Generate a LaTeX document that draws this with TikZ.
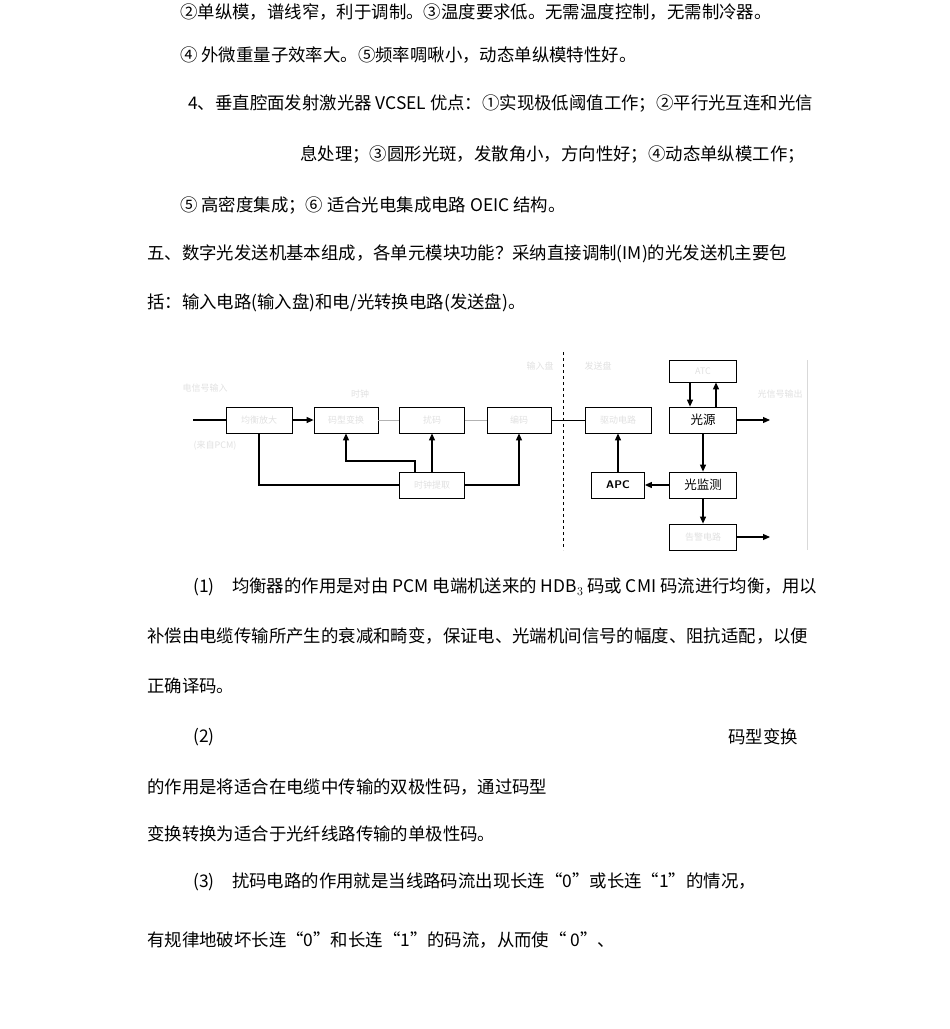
\documentclass[tikz,border=0pt]{standalone}
\usepackage{fontspec}
\setmainfont{Noto Sans CJK SC}
\usetikzlibrary{arrows.meta}
\begin{document}
\begin{tikzpicture}[x=1pt,y=-1pt,
  t/.style={anchor=west,inner sep=0,font=\fontsize{17.4}{17.4}\selectfont},
  bx/.style={draw,line width=0.8pt,minimum height=26pt,inner sep=0,font=\fontsize{12.5}{12.5}\selectfont},
  ft/.style={text=black!12,font=\fontsize{9}{9}\selectfont},
  ar/.style={line width=1.1pt,-{Triangle[length=7pt,width=6pt]}},
  ln/.style={line width=1.1pt}]
\useasboundingbox (0,0) rectangle (950,1029);
\node[t] (l1) at (180,12) {②单纵模，谱线窄，利于调制。③温度要求低。无需温度控制，无需制冷器。};
\node[t] (l2) at (180,55) {④ 外微重量子效率大。⑤频率啁啾小，动态单纵模特性好。};
\node[t] (l3) at (188,104) {4、垂直腔面发射激光器 VCSEL 优点：①实现极低阈值工作；②平行光互连和光信};
\node[t] (l4) at (300,155) {息处理；③圆形光斑，发散角小，方向性好；④动态单纵模工作；};
\node[t] (l5) at (180,205) {⑤ 高密度集成；⑥ 适合光电集成电路 OEIC 结构。};
\node[t] (l6) at (147,254) {五、数字光发送机基本组成，各单元模块功能？采纳直接调制(IM)的光发送机主要包};
\node[t] (l7) at (147,303) {括：输入电路(输入盘)和电/光转换电路(发送盘)。};
\node[t] (l8) at (193,587) {(1)\quad 均衡器的作用是对由 PCM 电端机送来的 HDB$_3$ 码或 CMI 码流进行均衡，用以};
\node[t] (l9) at (147,636) {补偿由电缆传输所产生的衰减和畸变，保证电、光端机间信号的幅度、阻抗适配，以便};
\node[t] (l10) at (147,686) {正确译码。};
\node[t] (l11) at (193,737) {(2)};
\node[t] (l12) at (728,737) {码型变换};
\node[t] (l13) at (147,787) {的作用是将适合在电缆中传输的双极性码，通过码型};
\node[t] (l14) at (147,834) {变换转换为适合于光纤线路传输的单极性码。};
\node[t] (l15) at (193,882) {(3)\quad 扰码电路的作用就是当线路码流出现长连“0”或长连“1”的情况，};
\node[t] (l16) at (147,940) {有规律地破坏长连“0”和长连“1”的码流，从而使“ 0”、};
% diagram
\node[bx,minimum width=66pt] (b1) at (259,420) {};
\node[bx,minimum width=64pt] (b2) at (346,420) {};
\node[bx,minimum width=65pt] (b3) at (432,420) {};
\node[bx,minimum width=64pt] (b4) at (519,420) {};
\node[bx,minimum width=66pt] (b5) at (618,420) {};
\node[bx,minimum width=67pt] (gy) at (703,420) {光源};
\node[bx,minimum width=67pt,minimum height=22pt] (top) at (703,371) {};
\node[bx,minimum width=53pt,font=\sffamily\bfseries\fontsize{11}{11}\selectfont] (apc) at (618,485) {APC};
\node[bx,minimum width=67pt] (jc) at (703,485) {光监测};
\node[bx,minimum width=67pt] (gj) at (703,537) {};
\node[bx,minimum width=65pt] (kz) at (432,485) {};
\coordinate (in) at (193,420);
\coordinate (out1) at (770,420);
\coordinate (out2) at (770,537);
\draw[ln] (in) -- (b1.west);
\draw[ar] (b1) -- (b2);
\draw[line width=0.6pt,black!30] (b2) -- (b3) (b3) -- (b4);
\draw[line width=0.6pt] (b4) -- (b5);
\draw[ar] (gy) -- (out1);
\draw[ar] (gy) -- (jc);
\draw[ar] (jc) -- (apc);
\draw[ar] (apc) -- (b5);
\draw[ar] (jc) -- (gj);
\draw[ar] (gj) -- (out2);
\draw[ar] ([xshift=-13pt]top.south) -- ([xshift=-13pt]gy.north);
\draw[ar] ([xshift=13pt]gy.north) -- ([xshift=13pt]top.south);
\draw[ln] (b1.south) |- (kz.west);
\draw[ar] (kz) -- (b3);
\draw[ar] ([xshift=-17pt]kz.north) |- (346,461) -- (b2.south);
\draw[ar] (kz.east) -| (b4.south);
\draw[dashed,line width=0.7pt] (563,352) -- (563,550);
\draw[line width=0.5pt,black!15] (807,360) -- (807,550);
\node[ft] (f1) at (205,388) {电信号输入};
\node[ft] (f2) at (215,446) {(来自PCM)};
\node[ft] (f3) at (360,394) {时钟};
\node[ft] (f4) at (540,366) {输入盘};
\node[ft] (f5) at (598,366) {发送盘};
\node[ft] (f6) at (780,394) {光信号输出};
\node[ft] (f7) at (259,420) {均衡放大};
\node[ft] (f8) at (346,420) {码型变换};
\node[ft] (f9) at (432,420) {扰码};
\node[ft] (f10) at (519,420) {编码};
\node[ft] (f11) at (618,420) {驱动电路};
\node[ft] (f12) at (703,371) {ATC};
\node[ft] (f13) at (432,485) {时钟提取};
\node[ft] (f14) at (703,537) {告警电路};
\end{tikzpicture}
\end{document}
